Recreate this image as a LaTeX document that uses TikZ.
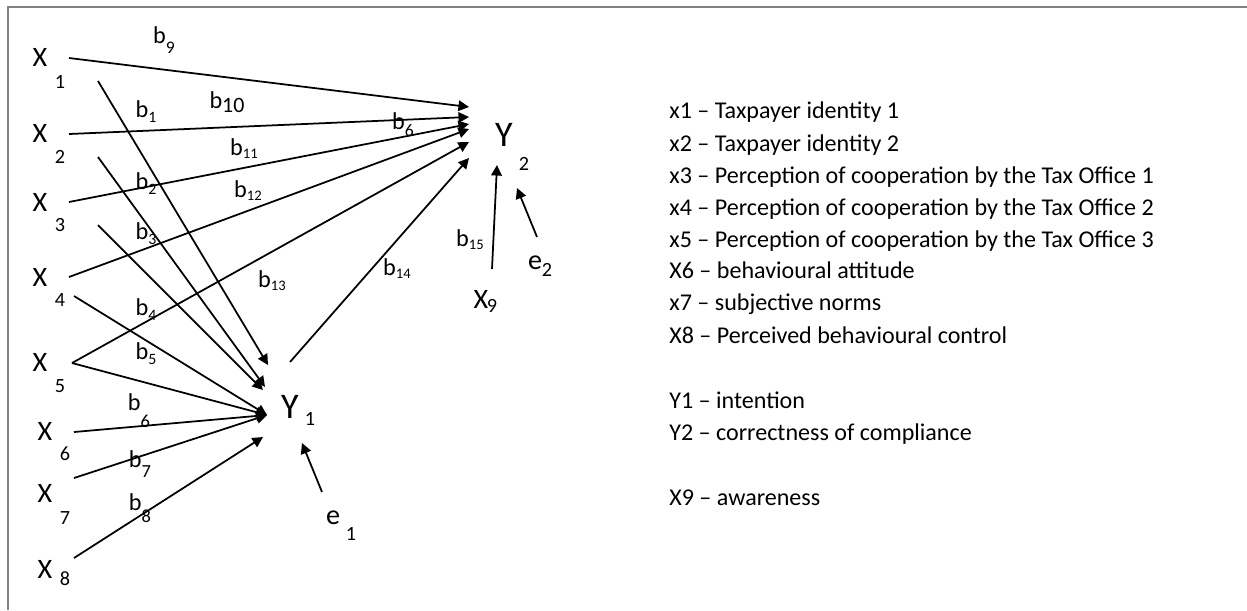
\documentclass[tikz,border=0pt]{standalone}
\usepackage{fontspec}
\setmainfont{Carlito}
\usetikzlibrary{arrows.meta,positioning}
\newcommand{\coef}[3]{b\raisebox{-#3}{\fontsize{#2}{#2}\selectfont #1}}

\begin{document}
\begin{tikzpicture}[x=0.02cm, y=-0.02cm,
    var/.style={inner sep=0pt, font=\fontsize{16}{18}\selectfont},
    dep/.style={inner sep=0pt, font=\fontsize{20.5}{22}\selectfont},
    idx/.style={inner sep=0pt, font=\fontsize{11.5}{13}\selectfont},
    wgt/.style={inner sep=0pt, font=\fontsize{13.8}{15}\selectfont},
    legend/.style={inner sep=0pt, anchor=base west, font=\fontsize{13.7}{15}\selectfont},
    path/.style={line width=1pt, -{Triangle[length=6pt,width=6pt]}}]
    \useasboundingbox (0,0) rectangle (1247,610);
    \draw[gray, line width=1.1pt] (1247,7) -- (8,7) -- (8,610);

    % exogenous variables
    \node[var] (x1) at (40,57) {X};   \node[idx] (x1n) at (60,82) {1};
    \node[var] (x2) at (40,133) {X};  \node[idx] (x2n) at (60,157) {2};
    \node[var] (x3) at (40,202) {X};  \node[idx] (x3n) at (60,225) {3};
    \node[var] (x4) at (40,277) {X};  \node[idx] (x4n) at (60,300) {4};
    \node[var] (x5) at (40,362) {X};  \node[idx] (x5n) at (60,386) {5};
    \node[var] (x6) at (45,431) {X};  \node[idx] (x6n) at (65,454) {6};
    \node[var] (x7) at (45,493) {X};  \node[idx] (x7n) at (65,518) {7};
    \node[var] (x8) at (45,569) {X};  \node[idx] (x8n) at (65,579) {8};
    \node[var] (x9) at (481,299) {X}; \node[idx] (x9n) at (492,306) {9};

    % endogenous variables and errors
    \node[dep] (y1) at (290,407) {Y}; \node[idx] (y1n) at (310,419) {1};
    \node[dep] (y2) at (504,135) {Y}; \node[idx] (y2n) at (524,164) {2};
    \node[var] (e1) at (333,518) {e}; \node[idx] (e1n) at (351,534) {1};
    \node[var] (e2) at (535,263) {e}; \node[idx] (e2n) at (547,270) {2};

    % arrow ends
    \coordinate (x1a) at (69,58);   \coordinate (x1b) at (98,81);
    \coordinate (x2a) at (69,134);  \coordinate (x2b) at (98,157);
    \coordinate (x3a) at (69,202);  \coordinate (x3b) at (98,225);
    \coordinate (x4a) at (69,277);  \coordinate (x4b) at (74,296);
    \coordinate (x5a) at (72,363);
    \coordinate (x6a) at (74,432);
    \coordinate (x7a) at (74,478);
    \coordinate (x8a) at (74,558);
    \coordinate (x9a) at (492,269);
    \coordinate (e1a) at (322,492);
    \coordinate (e2a) at (537,237);
    \coordinate (y1a) at (290,362);
    \coordinate (y1t) at (268,365);
    \coordinate (y1u) at (265,387);
    \coordinate (y1v) at (263,390);
    \coordinate (y1w) at (267,415);
    \coordinate (y1x) at (263,437);
    \coordinate (y1e) at (302,443);
    \coordinate (y2p) at (469,107);
    \coordinate (y2q) at (469,117);
    \coordinate (y2r) at (469,124);
    \coordinate (y2s) at (469,129);
    \coordinate (y2t) at (469,142);
    \coordinate (y2u) at (469,158);
    \coordinate (y2x) at (497,165);
    \coordinate (y2e) at (517,188);

    \draw[path] (x1a) -- (y2p);
    \draw[path] (x2a) -- (y2q);
    \draw[path] (x3a) -- (y2r);
    \draw[path] (x4a) -- (y2s);
    \draw[path] (x5a) -- (y2t);
    \draw[path] (y1a) -- (y2u);
    \draw[path] (x1b) -- (y1t);
    \draw[path] (x2b) -- (y1u);
    \draw[path] (x3b) -- (y1v);
    \draw[path] (x4b) -- (y1w);
    \draw[path] (x5a) -- (y1w);
    \draw[path] (x6a) -- (y1w);
    \draw[path] (x7a) -- (y1w);
    \draw[path] (x8a) -- (y1x);
    \draw[path] (e1a) -- (y1e);
    \draw[path] (x9a) -- (y2x);
    \draw[path] (e2a) -- (y2e);

    % path coefficients
    \node[wgt] (b9) at (164,40) {\coef{9}{10}{5.5pt}};
    \node[wgt] (b1) at (146,112) {\coef{1}{9}{2.8pt}};
    \node[wgt] (b10) at (227,102) {\coef{10}{12.5}{2.5pt}};
    \node[wgt] (b11) at (244,149) {\coef{11}{8.3}{1.7pt}};
    \node[wgt] (b2) at (146,184) {\coef{2}{9}{2.8pt}};
    \node[wgt] (b12) at (248,191) {\coef{12}{8.3}{1.7pt}};
    \node[wgt] (b3) at (146,234) {\coef{3}{9}{2.8pt}};
    \node[wgt] (b13) at (272,281) {\coef{13}{8.3}{1.7pt}};
    \node[wgt] (b4) at (146,310) {\coef{4}{9}{2.8pt}};
    \node[wgt] (b5) at (146,354) {\coef{5}{9}{2.8pt}};
    \node[wgt] (b6) at (139,411) {\coef{6}{10.5}{9.6pt}};
    \node[wgt] (b7) at (140,464) {\coef{7}{10.5}{6pt}};
    \node[wgt] (b8) at (140,508) {\coef{8}{10.5}{6.8pt}};
    \node[wgt] (b6r) at (403,125) {\coef{6}{10}{4pt}};
    \node[wgt] (b14) at (397,269) {\coef{14}{8.3}{1.7pt}};
    \node[wgt] (b15) at (470,240) {\coef{15}{8.3}{1.7pt}};

    % legend
    \node[legend] (l1) at (669,118) {x1 – Taxpayer identity 1};
    \node[legend] (l2) at (669,151) {x2 – Taxpayer identity 2};
    \node[legend] (l3) at (669,183) {x3 – Perception of cooperation by the Tax Office 1};
    \node[legend] (l4) at (669,215) {x4 – Perception of cooperation by the Tax Office 2};
    \node[legend] (l5) at (669,247) {x5 – Perception of cooperation by the Tax Office 3};
    \node[legend] (l6) at (669,278) {X6 – behavioural attitude};
    \node[legend] (l7) at (669,310) {x7 – subjective norms};
    \node[legend] (l8) at (669,343) {X8 – Perceived behavioural control};
    \node[legend] (l9) at (669,408) {Y1 – intention};
    \node[legend] (l10) at (669,440) {Y2 – correctness of compliance};
    \node[legend] (l11) at (669,505) {X9 – awareness};
\end{tikzpicture}
\end{document}
